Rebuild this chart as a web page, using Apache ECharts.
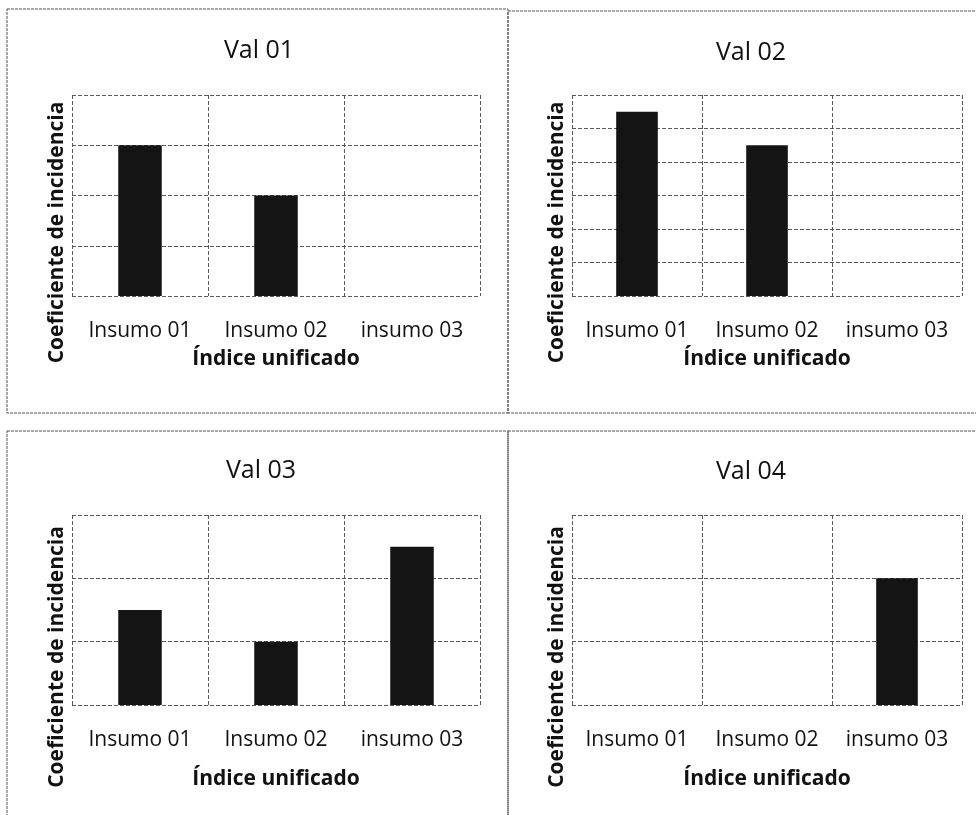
<!DOCTYPE html>
<html>
<head>
<meta charset="utf-8">
<title>Coeficiente de incidencia</title>
<script src="https://cdn.jsdelivr.net/npm/echarts@6/dist/echarts.min.js"></script>
<style>
  html, body { margin: 0; padding: 0; background: #fff; }
  #main { width: 976px; height: 815px; }
</style>
</head>
<body>
<div id="main"></div>
<script>
// datos
const categories = ['Insumo 01', 'Insumo 02', 'insumo 03'];
const titles = ['Val 01', 'Val 02', 'Val 03', 'Val 04'];
const val01 = [3, 2, 0];
const val02 = [5.5, 4.5, 0];
const val03 = [1.5, 1, 2.5];
const val04 = [0, 0, 2];
const yMax = [4, 6, 3, 3];
const yName = 'Coeficiente de incidencia';
const xName = 'Índice unificado';

const seriesData = [val01, val02, val03, val04];

// posiciones de cada panel
const layout = [
  { left: 72, top: 95, width: 408, height: 201, tx: 254, ty: 33, nameGap: 53, pad: 74 },
  { left: 572, top: 95, width: 390, height: 201, tx: 746, ty: 35, nameGap: 53, pad: 74 },
  { left: 72, top: 515, width: 408, height: 190, tx: 256, ty: 453, nameGap: 64, pad: 94 },
  { left: 572, top: 515, width: 390, height: 190, tx: 746, ty: 454, nameGap: 64, pad: 94 }
];

const font = '"Open Sans", "Liberation Sans", sans-serif';
const lineCol = '#5a5a5a';
const dash = [4, 2];

const chart = echarts.init(document.getElementById('main'));

const grid = [], title = [], xAxis = [], yAxis = [], series = [];
layout.forEach(function (p, i) {
  grid.push({ left: p.left, top: p.top, width: p.width, height: p.height, show: false });
  title.push({
    text: titles[i],
    left: p.tx,
    top: p.ty,
    textAlign: 'center',
    textStyle: { fontFamily: font, fontSize: 25, fontWeight: 'normal', color: '#111' }
  });
  xAxis.push({
    type: 'category',
    gridIndex: i,
    data: categories,
    name: xName,
    nameLocation: 'middle',
    nameGap: p.nameGap,
    nameTextStyle: { fontFamily: font, fontSize: 21, fontWeight: 'bold', color: '#111' },
    axisLine: { show: false },
    axisTick: { show: false },
    axisLabel: { interval: 0, hideOverlap: false, fontFamily: font, fontSize: 21, color: '#111', margin: 25 },
    splitLine: { show: true, interval: 0, lineStyle: { color: lineCol, type: dash, width: 1 } }
  });
  yAxis.push({
    type: 'value',
    gridIndex: i,
    min: 0,
    max: yMax[i],
    interval: 1,
    name: yName,
    nameLocation: 'middle',
    nameGap: 4,
    nameTextStyle: {
      fontFamily: font, fontSize: 21, fontWeight: 'bold', color: '#111',
      padding: [0, p.pad, 0, 0]
    },
    axisLine: { show: false },
    axisTick: { show: false },
    axisLabel: { show: false },
    splitLine: { show: true, lineStyle: { color: lineCol, type: dash, width: 1 } }
  });
  series.push({
    type: 'bar',
    xAxisIndex: i,
    yAxisIndex: i,
    data: seriesData[i],
    barWidth: '32%',
    itemStyle: { color: '#141414' },
    silent: true
  });
});

// marcos de los paneles
const frame = { stroke: '#555', lineWidth: 1, fill: 'none', lineDash: [3, 1] };
const graphic = [
  { type: 'rect', shape: { x: 7, y: 9, width: 501, height: 404 }, style: frame, silent: true },
  { type: 'rect', shape: { x: 508, y: 11, width: 480, height: 402 }, style: frame, silent: true },
  { type: 'rect', shape: { x: 7, y: 431, width: 501, height: 400 }, style: frame, silent: true },
  { type: 'rect', shape: { x: 508, y: 431, width: 480, height: 400 }, style: frame, silent: true }
];

chart.setOption({
  backgroundColor: '#fff',
  animation: false,
  title: title,
  grid: grid,
  xAxis: xAxis,
  yAxis: yAxis,
  series: series,
  graphic: graphic
});
</script>
</body>
</html>
